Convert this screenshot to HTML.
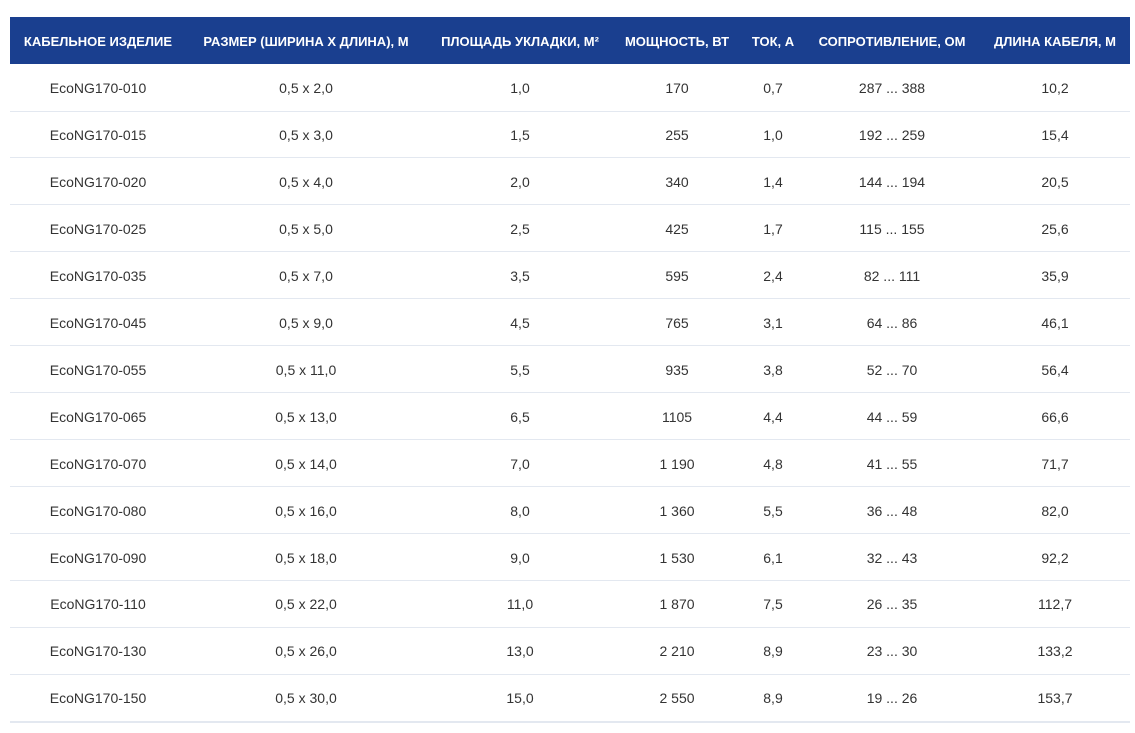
<!DOCTYPE html>
<html><head><meta charset="utf-8"><style>
body{margin:0;background:#fff;width:1135px;height:733px;overflow:hidden;font-family:"Liberation Sans","DejaVu Sans",sans-serif;}
.hdr{position:absolute;left:10px;top:17px;width:1120px;height:47px;background:#1a3f8f;}
.t{position:absolute;white-space:nowrap;transform:translateX(-50%);}
.h{color:#fff;font-weight:bold;font-size:13px;top:34px;}
.c{color:#333;font-size:14px;}
.ln{position:absolute;left:10px;width:1120px;height:1px;background:#e3e8f0;}
</style></head><body>
<div class="hdr"></div>
<div id="root"></div>
<script>
var cx=[98,306,520,677,773,892,1055];
var hd=["КАБЕЛЬНОЕ ИЗДЕЛИЕ","РАЗМЕР (ШИРИНА Х ДЛИНА), М","ПЛОЩАДЬ УКЛАДКИ, М²","МОЩНОСТЬ, ВТ","ТОК, А","СОПРОТИВЛЕНИЕ, ОМ","ДЛИНА КАБЕЛЯ, М"];
var rows=[
["EcoNG170-010","0,5 x 2,0","1,0","170","0,7","287 ... 388","10,2"],
["EcoNG170-015","0,5 x 3,0","1,5","255","1,0","192 ... 259","15,4"],
["EcoNG170-020","0,5 x 4,0","2,0","340","1,4","144 ... 194","20,5"],
["EcoNG170-025","0,5 x 5,0","2,5","425","1,7","115 ... 155","25,6"],
["EcoNG170-035","0,5 x 7,0","3,5","595","2,4","82 ... 111","35,9"],
["EcoNG170-045","0,5 x 9,0","4,5","765","3,1","64 ... 86","46,1"],
["EcoNG170-055","0,5 x 11,0","5,5","935","3,8","52 ... 70","56,4"],
["EcoNG170-065","0,5 x 13,0","6,5","1105","4,4","44 ... 59","66,6"],
["EcoNG170-070","0,5 x 14,0","7,0","1 190","4,8","41 ... 55","71,7"],
["EcoNG170-080","0,5 x 16,0","8,0","1 360","5,5","36 ... 48","82,0"],
["EcoNG170-090","0,5 x 18,0","9,0","1 530","6,1","32 ... 43","92,2"],
["EcoNG170-110","0,5 x 22,0","11,0","1 870","7,5","26 ... 35","112,7"],
["EcoNG170-130","0,5 x 26,0","13,0","2 210","8,9","23 ... 30","133,2"],
["EcoNG170-150","0,5 x 30,0","15,0","2 550","8,9","19 ... 26","153,7"]];
var h="";
hd.forEach(function(s,i){h+='<div class="t h" style="left:'+cx[i]+'px">'+s+'</div>';});
rows.forEach(function(r,j){var y=64+j*46.95;
r.forEach(function(s,i){h+='<div class="t c" style="left:'+cx[i]+'px;top:'+(y+16)+'px">'+s+'</div>';});
h+='<div class="ln" style="top:'+Math.round(y+46.5)+'px;'+(j==13?'height:2px':'')+'"></div>';});
document.getElementById('root').innerHTML=h;
</script>
</body></html>
